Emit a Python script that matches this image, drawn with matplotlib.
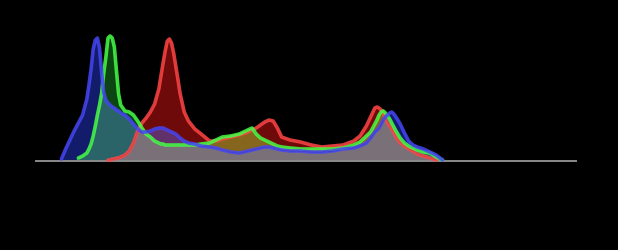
"""RGB histogram of a photo, drawn on black with additive-looking overlaps."""

import matplotlib

matplotlib.use("Agg")

import matplotlib.pyplot as plt  # noqa: E402
import numpy as np  # noqa: E402

levels = [0, 10, 12, 14, 16, 18, 20, 22, 24, 25, 26, 27, 28, 29, 30, 31, 32, 33,
          34, 35, 36, 37, 38, 39, 40, 42, 44, 46, 48, 50, 52, 54, 56, 58, 59, 60,
          61, 62, 63, 64, 65, 66, 67, 68, 70, 72, 75, 78, 82, 85, 88, 92, 96, 100,
          102, 104, 106, 108, 110, 112, 114, 116, 120, 125, 130, 135, 140, 145,
          150, 153, 156, 158, 160, 161, 162, 163, 164, 165, 166, 167, 168, 169,
          170, 172, 174, 176, 178, 180, 183, 186, 189, 192, 195, 255]

red = [0, 0, 0, 0, 0, 0, 0, 0, 0, 0, 0, 0, 0, 0, 0, 0, 0, 0,
       1, 1, 2, 2, 3, 3, 4, 6, 10, 18, 30, 38, 43, 49, 57, 72, 85, 98,
       110, 120, 122, 118, 108, 95, 82, 68, 49, 40, 32, 27, 20, 20, 22, 24, 26, 29,
       31, 33, 36, 39, 41, 40, 33, 24, 21, 19, 16, 14, 15, 16,
       20, 25, 35, 44, 53, 54, 53, 51, 48, 42, 38, 35, 32, 28,
       24, 18, 15, 12, 10, 7, 5, 3, 1, 0, 0, 0]

green = [0, 0, 0, 0, 0, 0, 3, 5, 8, 12, 17, 25, 35, 46, 56, 68, 88, 104,
         123, 125, 123, 114, 90, 67, 56, 50, 49, 46, 40, 33, 27, 24, 20, 18, 17, 17,
         16, 16, 16, 16, 16, 16, 16, 16, 16, 16, 16, 17, 18, 21, 24, 25, 27, 31,
         33, 27, 23, 21, 19, 17, 15, 14, 13, 12, 12, 12, 12, 13,
         16, 19, 25, 29, 37, 41, 46, 49, 50, 48, 45, 42, 38, 34,
         30, 23, 18, 15, 13, 11, 9, 8, 4, 1, 0, 0]

blue = [0, 0, 2, 12, 21, 30, 38, 46, 62, 76, 92, 112, 121, 123, 113, 88, 68, 61,
        58, 56, 54, 53, 51, 50, 48, 46, 42, 37, 32, 29, 29, 30, 32, 33, 33, 33,
        32, 31, 30, 29, 28, 27, 25, 23, 20, 18, 17, 15, 14, 13, 11, 9, 8, 10,
        11, 12, 13, 14, 14, 13, 12, 11, 10, 10, 9, 9, 10, 12,
        13, 15, 18, 23, 29, 31, 33, 37, 41, 44, 46, 48, 49, 47,
        44, 37, 28, 20, 16, 14, 12, 9, 6, 1, 0, 0]

BACKGROUND = "#000000"
LINE_COLORS = ["#ff4646", "#46ff46", "#4646f4"]  # r, g, b
# Fill colour of the band only one channel covers (by channel).
ONLY_COLORS = ["#6e0a0a", "#0c4412", "#121c6a"]
# Fill colour of the band two channels cover (keyed by the missing channel).
PAIR_COLORS = ["#2a6468", "#62306a", "#86661c"]
ALL_COLOR = "#7a7078"
BASELINE_COLOR = "#8a8a8a"

x = np.array(levels, dtype=float)
channels = np.vstack([red, green, blue]).astype(float)
order = np.argsort(channels, axis=0, kind="stable")
ranked = np.sort(channels, axis=0)
low, mid, high = ranked


def _widen(mask: np.ndarray) -> np.ndarray:
    """Grow a mask by one sample each way so adjacent bands leave no gaps."""
    grown = mask.copy()
    grown[1:] |= mask[:-1]
    grown[:-1] |= mask[1:]
    return grown


fig = plt.figure(figsize=(6.18, 2.5), dpi=100, facecolor=BACKGROUND)
ax = fig.add_axes([36 / 618, 89 / 250, 540 / 618, 131 / 250])
ax.set_facecolor(BACKGROUND)
ax.set_xlim(0, 255)
ax.set_ylim(0, 131)
ax.axis("off")

# Region under every channel.
ax.fill_between(x, 0, low, color=ALL_COLOR, linewidth=0, zorder=1)
for k in range(3):
    ax.fill_between(x, low, mid, where=_widen(order[0] == k),
                    color=PAIR_COLORS[k], linewidth=0, zorder=2)
    ax.fill_between(x, mid, high, where=_widen(order[2] == k),
                    color=ONLY_COLORS[k], linewidth=0, zorder=3)

ax.plot([0, 255], [0, 0], color=BASELINE_COLOR, linewidth=1.4,
        clip_on=False, zorder=4)
for values, color in zip(channels, LINE_COLORS):
    shown = np.where(values > 0, values, np.nan)
    ax.plot(x, shown, color=color, linewidth=2.6, alpha=0.85,
            solid_capstyle="round", clip_on=False, zorder=5)

fig.savefig("out.png", facecolor=BACKGROUND, dpi=100)
